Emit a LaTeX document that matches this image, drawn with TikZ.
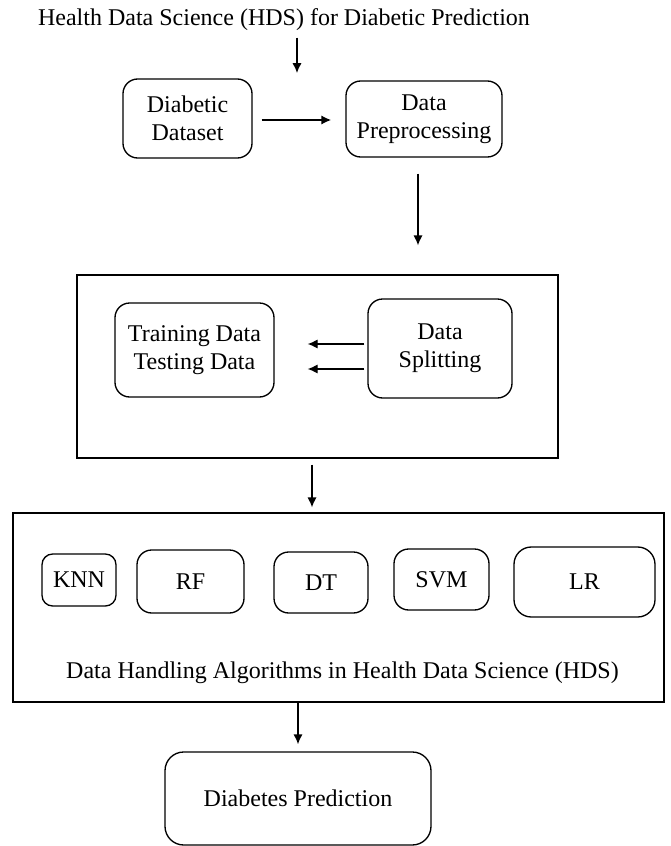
\documentclass[tikz,border=0pt]{standalone}
\usepackage{fontspec}
\setmainfont{Liberation Serif}
\usetikzlibrary{arrows.meta}

\tikzset{
  lbl/.style={inner sep=0.75pt, font=\fontsize{18}{21}\selectfont},
  rbox/.style={draw, line width=1pt, rounded corners=11pt, align=center, inner sep=0pt, font=\fontsize{18}{21}\selectfont},
  frame/.style={draw, line width=1pt, inner sep=0pt},
  arr/.style={line width=1pt, -{Latex[length=7.5pt,width=7pt]}},
}

\begin{document}
\begin{tikzpicture}[x=0.75pt,y=0.75pt,yscale=-1,xscale=1]
\useasboundingbox (0,0) rectangle (671,846);

% Text Node
\draw (284,20) node [lbl] (title) {Health Data Science (HDS) for Diabetic Prediction};

%Rounded Rect
\draw (187.5,118.5) node [rbox, minimum width=96.75pt, minimum height=59.25pt] (dataset) {Diabetic\\Dataset};
%Rounded Rect
\draw (424,119) node [rbox, minimum width=117pt, minimum height=57pt] (prep) {Data\\Preprocessing};

%Shape: Rectangle
\draw (317.5,366.5) node [frame, minimum width=360.75pt, minimum height=137.25pt] (splitframe) {};
%Rounded Rect
\draw (194.5,350) node [rbox, minimum width=119.25pt, minimum height=70.5pt] (traintest) {Training Data\\Testing Data};
%Rounded Rect
\draw (440,348.5) node [rbox, minimum width=108pt, minimum height=74.25pt] (split) {Data\\Splitting};

%Shape: Rectangle
\draw (338.5,607.5) node [frame, minimum width=488.25pt, minimum height=141.75pt] (algoframe) {};
%Rounded Rect
\draw (79,580) node [rbox, rounded corners=8pt, minimum width=55.5pt, minimum height=39pt] (knn) {KNN};
%Rounded Rect
\draw (190.5,581.5) node [rbox, minimum width=80.25pt, minimum height=47.25pt] (rf) {RF};
%Rounded Rect
\draw (321,582.5) node [rbox, minimum width=70.5pt, minimum height=45.75pt] (dt) {DT};
%Rounded Rect
\draw (441.5,579.5) node [rbox, minimum width=71.25pt, minimum height=45.75pt] (svm) {SVM};
%Rounded Rect
\draw (584.5,582) node [rbox, rounded corners=13pt, minimum width=105.75pt, minimum height=52.5pt] (lr) {LR};
% Text Node
\draw (342.5,673) node [lbl] (algotext) {Data Handling Algorithms in Health Data Science (HDS)};

%Rounded Rect
\draw (298,798.5) node [rbox, rounded corners=14pt, minimum width=199.5pt, minimum height=69.75pt] (pred) {Diabetes Prediction};

%Straight Lines
\coordinate (entry) at (297,73);
\draw [arr, shorten <=4pt] (title.south -| entry) -- (entry);
%Straight Lines
\draw [arr, line width=1.5pt, shorten <=6.75pt, shorten >=10.5pt] (dataset.east |- 0,120) -- (prep.west |- 0,120);
%Straight Lines
\draw [arr, shorten <=12pt, shorten >=21.75pt] (prep.south -| 418,0) -- (splitframe.north -| 418,0);
%Straight Lines
\draw [arr, shorten <=2.25pt, shorten >=24.75pt] (split.west |- 0,344) -- (traintest.east |- 0,344);
\draw [arr, shorten <=2.25pt, shorten >=24.75pt] (split.west |- 0,369) -- (traintest.east |- 0,369);
%Straight Lines
\draw [arr, shorten <=4.5pt, shorten >=3.75pt] (splitframe.south -| 312,0) -- (algoframe.north -| 312,0);
%Straight Lines
\draw [arr, line width=1.3pt, shorten >=5.25pt] (algoframe.south -| pred.north) -- (pred.north);

\end{tikzpicture}
\end{document}
